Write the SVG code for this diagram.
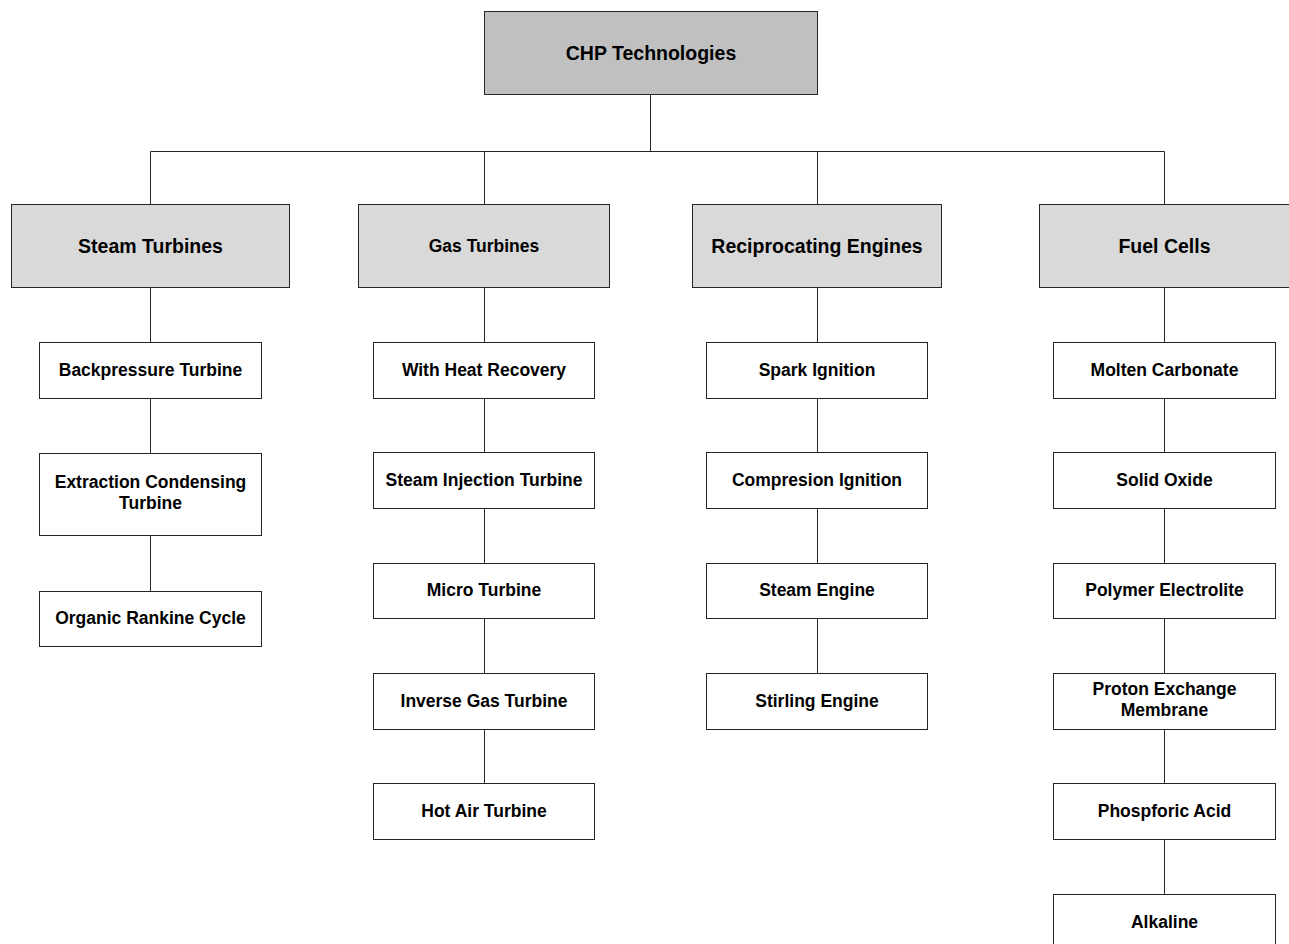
<svg xmlns="http://www.w3.org/2000/svg" width="1289" height="944" viewBox="0 0 1289 944">
<style>
.box{stroke:#262626;stroke-width:1}
.root{fill:#c0c0c0}
.cat{fill:#d9d9d9}
.leaf{fill:#ffffff}
.conn{stroke:#262626;stroke-width:1;fill:none}
text{font-family:"Liberation Sans",Arial,sans-serif;font-weight:bold;fill:#000;text-anchor:middle}
.t19{font-size:19.5px}
.t17{font-size:17.5px}
</style>
<rect width="1289" height="944" fill="#ffffff"/>
<g id="connectors">
<path class="conn" d="M650.5 94.5V151.5M150.5 151.5H1164.5M150.5 151.5V204.5M484.5 151.5V204.5M817.5 151.5V204.5M1164.5 151.5V204.5"/>
<path class="conn" d="M150.5 287.5V342.5M150.5 398.5V453.5M150.5 535.5V591.5"/>
<path class="conn" d="M484.5 287.5V342.5M484.5 398.5V452.5M484.5 508.5V563.5M484.5 618.5V673.5M484.5 729.5V783.5"/>
<path class="conn" d="M817.5 287.5V342.5M817.5 398.5V452.5M817.5 508.5V563.5M817.5 618.5V673.5"/>
<path class="conn" d="M1164.5 287.5V342.5M1164.5 398.5V452.5M1164.5 508.5V563.5M1164.5 618.5V673.5M1164.5 729.5V783.5M1164.5 839.5V894.5"/>
</g>
<g id="chp">
<rect class="box root" x="484.5" y="11.5" width="333" height="83"/>
<text class="t19" x="651" y="60">CHP Technologies</text>
</g>
<g id="steam-turbines">
<rect class="box cat" x="11.5" y="204.5" width="278" height="83"/>
<text class="t19" x="150.5" y="252.5">Steam Turbines</text>
</g>
<g id="gas-turbines">
<rect class="box cat" x="358.5" y="204.5" width="251" height="83"/>
<text class="t17" x="484" y="251.5">Gas Turbines</text>
</g>
<g id="reciprocating-engines">
<rect class="box cat" x="692.5" y="204.5" width="249" height="83"/>
<text class="t19" x="817" y="252.5">Reciprocating Engines</text>
</g>
<g id="fuel-cells">
<rect class="box cat" x="1039.5" y="204.5" width="252" height="83"/>
<text class="t19" x="1164.5" y="252.5">Fuel Cells</text>
</g>
<g id="backpressure-turbine">
<rect class="box leaf" x="39.5" y="342.5" width="222" height="56"/>
<text class="t17" x="150.5" y="375.8">Backpressure Turbine</text>
</g>
<g id="extraction-condensing-turbine">
<rect class="box leaf" x="39.5" y="453.5" width="222" height="82"/>
<text class="t17" x="150.5" y="488.3">Extraction Condensing</text>
<text class="t17" x="150.5" y="509.3">Turbine</text>
</g>
<g id="organic-rankine-cycle">
<rect class="box leaf" x="39.5" y="591.5" width="222" height="55"/>
<text class="t17" x="150.5" y="624">Organic Rankine Cycle</text>
</g>
<g id="with-heat-recovery">
<rect class="box leaf" x="373.5" y="342.5" width="221" height="56"/>
<text class="t17" x="484" y="375.8">With Heat Recovery</text>
</g>
<g id="steam-injection-turbine">
<rect class="box leaf" x="373.5" y="452.5" width="221" height="56"/>
<text class="t17" x="484" y="485.8">Steam Injection Turbine</text>
</g>
<g id="micro-turbine">
<rect class="box leaf" x="373.5" y="563.5" width="221" height="55"/>
<text class="t17" x="484" y="596.3">Micro Turbine</text>
</g>
<g id="inverse-gas-turbine">
<rect class="box leaf" x="373.5" y="673.5" width="221" height="56"/>
<text class="t17" x="484" y="706.8">Inverse Gas Turbine</text>
</g>
<g id="hot-air-turbine">
<rect class="box leaf" x="373.5" y="783.5" width="221" height="56"/>
<text class="t17" x="484" y="816.8">Hot Air Turbine</text>
</g>
<g id="spark-ignition">
<rect class="box leaf" x="706.5" y="342.5" width="221" height="56"/>
<text class="t17" x="817" y="375.8">Spark Ignition</text>
</g>
<g id="compresion-ignition">
<rect class="box leaf" x="706.5" y="452.5" width="221" height="56"/>
<text class="t17" x="817" y="485.8">Compresion Ignition</text>
</g>
<g id="steam-engine">
<rect class="box leaf" x="706.5" y="563.5" width="221" height="55"/>
<text class="t17" x="817" y="596.3">Steam Engine</text>
</g>
<g id="stirling-engine">
<rect class="box leaf" x="706.5" y="673.5" width="221" height="56"/>
<text class="t17" x="817" y="706.8">Stirling Engine</text>
</g>
<g id="molten-carbonate">
<rect class="box leaf" x="1053.5" y="342.5" width="222" height="56"/>
<text class="t17" x="1164.5" y="375.8">Molten Carbonate</text>
</g>
<g id="solid-oxide">
<rect class="box leaf" x="1053.5" y="452.5" width="222" height="56"/>
<text class="t17" x="1164.5" y="485.8">Solid Oxide</text>
</g>
<g id="polymer-electrolite">
<rect class="box leaf" x="1053.5" y="563.5" width="222" height="55"/>
<text class="t17" x="1164.5" y="596.3">Polymer Electrolite</text>
</g>
<g id="proton-exchange-membrane">
<rect class="box leaf" x="1053.5" y="673.5" width="222" height="56"/>
<text class="t17" x="1164.5" y="695.3">Proton Exchange</text>
<text class="t17" x="1164.5" y="716">Membrane</text>
</g>
<g id="phospforic-acid">
<rect class="box leaf" x="1053.5" y="783.5" width="222" height="56"/>
<text class="t17" x="1164.5" y="816.8">Phospforic Acid</text>
</g>
<g id="alkaline">
<rect class="box leaf" x="1053.5" y="894.5" width="222" height="60"/>
<text class="t17" x="1164.5" y="927.5">Alkaline</text>
</g>
</svg>
